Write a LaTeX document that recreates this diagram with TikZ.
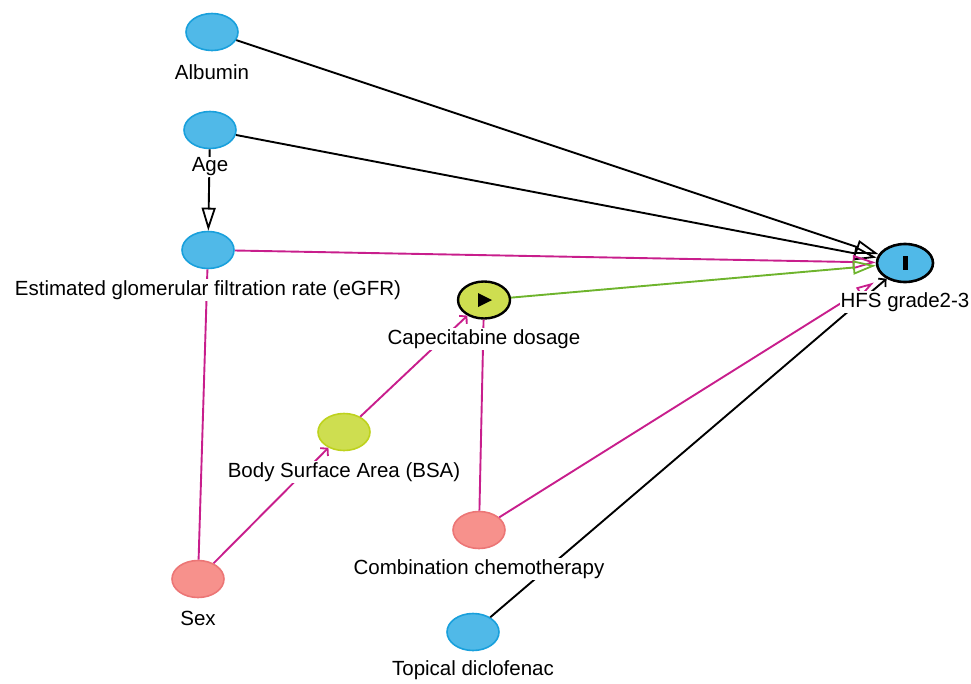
\documentclass[tikz,border=0pt]{standalone}
\usepackage{fontspec}
\setmainfont{Liberation Sans}
\usetikzlibrary{shapes.geometric,arrows.meta,calc}
\definecolor{nblue}{RGB}{80,185,232}
\definecolor{nblueb}{RGB}{25,160,220}
\definecolor{nyel}{RGB}{206,222,80}
\definecolor{nyelb}{RGB}{190,210,30}
\definecolor{npink}{RGB}{247,145,140}
\definecolor{npinkb}{RGB}{236,118,118}
\definecolor{emag}{RGB}{200,30,140}
\definecolor{egreen}{RGB}{110,180,45}
\tikzset{
  var/.style={ellipse, minimum width=52pt, minimum height=37pt, line width=1.6pt, inner sep=0pt},
  bluev/.style={var, fill=nblue, draw=nblueb},
  yelv/.style={var, fill=nyel, draw=nyelb},
  pinkv/.style={var, fill=npink, draw=npinkb},
  capv/.style={yelv, draw=black, line width=2.4pt},
  hfsv/.style={bluev, draw=black, line width=2.6pt, minimum width=56pt, minimum height=38pt},
  lbl/.style={fill=white, inner sep=1pt, font=\fontsize{20.5pt}{24pt}\selectfont},
  edge/.style={line width=1.9pt},
  bigopen/.style={-{Triangle[open, length=23pt, width=14pt, line width=1.8pt]}},
  midopen/.style={-{Triangle[open, length=18pt, width=10pt, line width=1.8pt]}},
  barb/.style={-{Straight Barb[length=5pt, width=11pt, line width=1.8pt]}}
}
\begin{document}
\begin{tikzpicture}[x=1pt, y=-1pt]
\useasboundingbox (0,0) rectangle (971,683);
% nodes
\node[bluev] (alb) at (212,32) {};
\node[bluev] (age) at (210,130) {};
\node[bluev] (egfr) at (208,250) {};
\node[capv] (cap) at (484,300) {};
\node[yelv] (bsa) at (344,432) {};
\node[pinkv] (comb) at (479,530) {};
\node[pinkv] (sex) at (198,579) {};
\node[bluev] (top) at (473,632) {};
\node[hfsv] (hfs) at (905,263) {};
% edges
\draw[edge, black, bigopen] (alb) -- (hfs);
\draw[edge, black, bigopen] (age) -- (hfs);
\draw[edge, black, bigopen] (age) -- (egfr);
\draw[edge, emag, bigopen] (egfr) -- (hfs);
\draw[edge, egreen, bigopen] (cap) -- (hfs);
\draw[edge, emag, midopen, shorten >=11pt] (comb) -- (hfs);
\draw[edge, emag] (comb) -- (cap);
\draw[edge, emag] (sex) -- (egfr);
\draw[edge, emag, barb] (sex) -- (bsa);
\draw[edge, emag, barb] (bsa) -- (cap);
\draw[edge, black, barb] (top) -- (hfs);
% symbols
\fill[black] ($(cap)+(-6,-7)$) -- ($(cap)+(8,0)$) -- ($(cap)+(-6,7)$) -- cycle;
\fill[black] ($(hfs)+(-2.5,-7)$) rectangle ($(hfs)+(2.5,7)$);
% labels
\node[lbl] (lalb) at (212,72) {Albumin};
\node[lbl] (lage) at (210,167) {Age};
\node[lbl] (legfr) at (208,290) {Estimated glomerular filtration rate (eGFR)};
\node[lbl] (lcap) at (484,339) {Capecitabine dosage};
\node[lbl] (lbsa) at (344,472) {Body Surface Area (BSA)};
\node[lbl] (lcomb) at (479,569) {Combination chemotherapy};
\node[lbl] (lsex) at (198,618) {Sex};
\node[lbl] (ltop) at (473,670) {Topical diclofenac};
\node[lbl] (lhfs) at (905,302) {HFS grade2-3};
\end{tikzpicture}
\end{document}
